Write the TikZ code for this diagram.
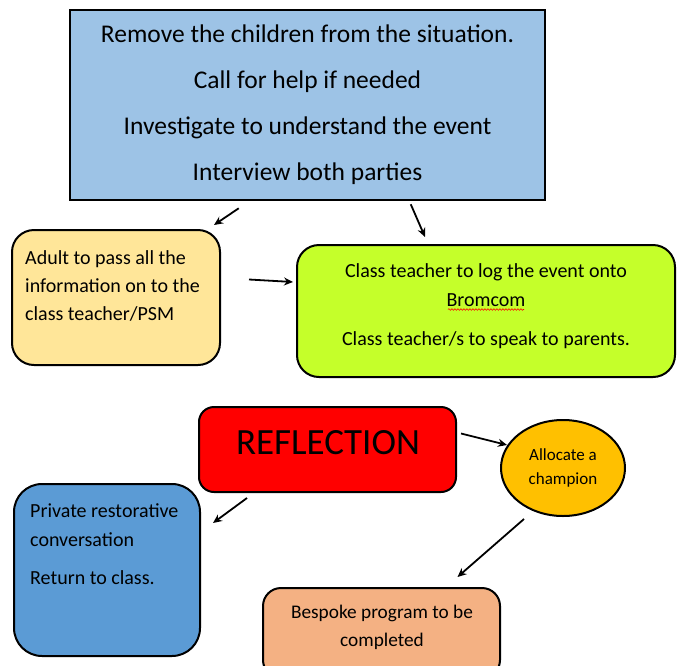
\documentclass[tikz,border=0pt]{standalone}
\usepackage{fontspec}
\setmainfont{Carlito}
\usetikzlibrary{arrows.meta,shapes.geometric,calc,decorations.pathmorphing}
\definecolor{topblue}{HTML}{9DC3E6}
\definecolor{adultyellow}{HTML}{FFE699}
\definecolor{lime}{HTML}{C5FF2A}
\definecolor{champ}{HTML}{FFC000}
\definecolor{privblue}{HTML}{5B9BD5}
\definecolor{bespoke}{HTML}{F4B183}
\tikzset{
  boxshape/.style={draw=black, line width=2pt, rounded corners=#1, inner sep=0pt},
  boxshape/.default=22pt,
  txt/.style={inner sep=0pt, font=\fontsize{20}{28}\selectfont},
  arr/.style={line width=1.8pt, -{Stealth[length=9pt,width=8pt]}},
}
\begin{document}
\begin{tikzpicture}[x=1pt,y=-1pt]
\useasboundingbox (0,0) rectangle (683,665);
% top box
\node[draw=black, line width=2.5pt, fill=topblue, minimum width=475pt, minimum height=190pt, inner sep=0pt,
      align=center, font=\fontsize{25.5}{46}\selectfont] (top) at (307.5,105)
  {Remove the children from the situation.\\Call for help if needed\\Investigate to understand the event\\Interview both parties};
% adult box
\node[boxshape, fill=adultyellow, minimum width=208pt, minimum height=135pt] (adult) at (116,297.5) {};
\node[txt, anchor=west, align=left] (adulttxt) at (25,286)
  {Adult to pass all the\\information on to the\\class teacher/PSM};
% green box
\node[boxshape, fill=lime, minimum width=378pt, minimum height=132pt] (green) at (486,311) {};
\node[txt, align=center, font=\fontsize{20}{29}\selectfont] (greentxt) at (486,306.5)
  {Class teacher to log the event onto\\Bromcom\\[10pt]Class teacher/s to speak to parents.};
\draw[red, line width=0.6pt, decorate, decoration={snake, amplitude=0.8pt, segment length=3pt}]
  ($(greentxt.center)+(-38,3)$) -- ($(greentxt.center)+(38,3)$);
% reflection
\node[boxshape=15pt, fill=red, minimum width=257pt, minimum height=85pt] (refl) at (327.5,449.5) {};
\node[inner sep=0pt, font=\fontsize{37}{40}\selectfont] (refltxt) at (328,442.5) {REFLECTION};
% champion
\node[ellipse, draw=black, line width=2pt, fill=champ, minimum width=124pt, minimum height=96pt,
      inner sep=0pt, align=center, font=\fontsize{17}{24}\selectfont] (champ) at (563,468)
  {Allocate a\\champion};
% private
\node[boxshape=28pt, fill=privblue, minimum width=186pt, minimum height=172pt] (priv) at (107,570) {};
\node[txt, anchor=north west, align=left, font=\fontsize{20}{29}\selectfont] (privtxt) at (30,503.5)
  {Private restorative\\conversation\\[9pt]Return to class.};
% bespoke
\node[boxshape=18pt, fill=bespoke, minimum width=237pt, minimum height=90pt] (besp) at (381.5,633) {};
\node[txt, align=center, font=\fontsize{19.3}{28}\selectfont] (bespt) at (382,627)
  {Bespoke program to be\\completed};
% arrows
\draw[arr] ($(top.south west)+(170,7)$) -- ($(adult.north east)+(-7,-4)$);
\draw[arr] ($(top.south west)+(342,3)$) -- ($(green.north west)+(129,-7)$);
\draw[arr] ($(adult.east)+(28,-18)$) -- ($(green.west)+(-3,-29)$);
\draw[arr] ($(refl.east)+(4,-16)$) -- ($(champ.west)+(7,-23)$);
\draw[arr] ($(refl.south west)+(49,5)$) -- ($(priv.north east)+(12,40)$);
\draw[arr] ($(champ.south)+(-39,2)$) -- ($(besp.north)+(76,-10)$);
\end{tikzpicture}
\end{document}
